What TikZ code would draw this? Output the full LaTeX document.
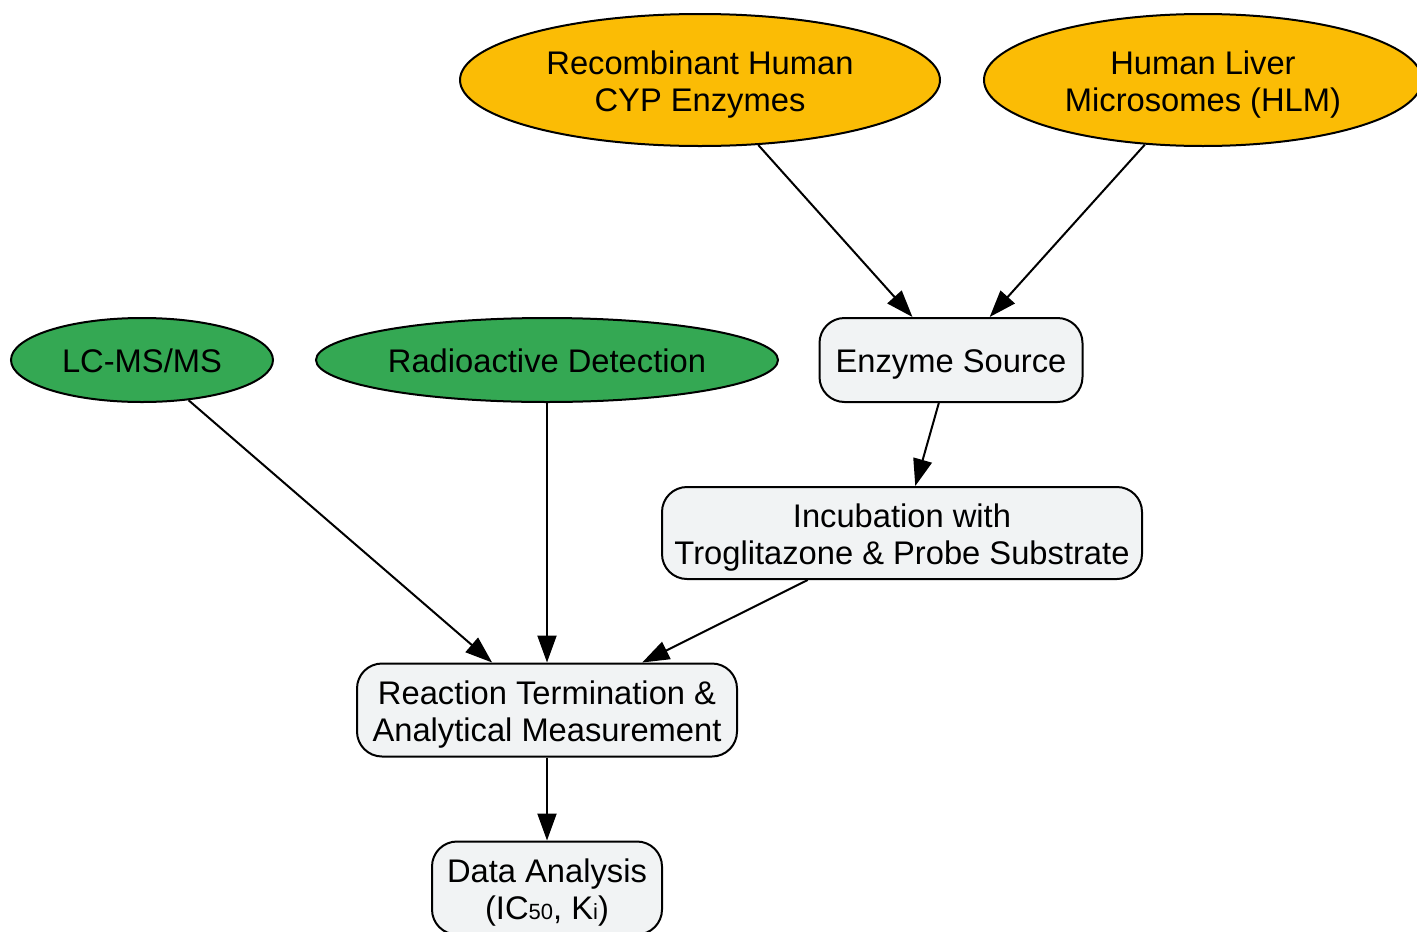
\documentclass[tikz,border=0pt]{standalone}
\usepackage{fontspec}
\setmainfont{Liberation Sans}
\usetikzlibrary{shapes.geometric,arrows.meta}
\definecolor{gyellow}{HTML}{FBBC05}
\definecolor{ggreen}{HTML}{34A853}
\definecolor{boxfill}{HTML}{F1F3F4}
\newcommand{\topst}{\rule{0pt}{32pt}}
\newcommand{\botst}{\rule[-7pt]{0pt}{0pt}}
\begin{document}
\begin{tikzpicture}[x=1pt,y=-1pt,
  base/.style={draw=black,line width=2pt,inner sep=0pt,align=center,
    font=\fontsize{32.7}{37}\selectfont,text=black},
  srcell/.style={base,ellipse,fill=gyellow},
  detell/.style={base,ellipse,fill=ggreen},
  stepbox/.style={base,rectangle,rounded corners=25pt,fill=boxfill},
  conn/.style={line width=2pt,-{Triangle[length=27pt,width=19pt]}}]
\useasboundingbox (0,0) rectangle (1417,932);
\node[srcell,minimum width=480pt,minimum height=132pt] (rec) at (700,80) {\topst Recombinant Human\\CYP Enzymes\botst};
\node[srcell,minimum width=438pt,minimum height=132pt] (hlm) at (1203,80) {\topst Human Liver\\Microsomes (HLM)\botst};
\node[detell,minimum width=262pt,minimum height=84pt] (lc) at (142,360) {\topst LC-MS/MS\botst};
\node[detell,minimum width=462pt,minimum height=84pt] (rad) at (547,360) {\topst Radioactive Detection\botst};
\node[stepbox,minimum width=263pt,minimum height=84pt] (es) at (951,360) {\topst Enzyme Source\botst};
\node[stepbox,minimum width=480pt,minimum height=92pt] (inc) at (902,533) {\topst Incubation with\\Troglitazone \& Probe Substrate\botst};
\node[stepbox,minimum width=380pt,minimum height=93pt] (rt) at (547,710) {\topst Reaction Termination \&\\Analytical Measurement\botst};
\node[stepbox,minimum width=230pt,minimum height=93pt] (da) at (547,888) {\topst Data Analysis\\(IC{\fontsize{22}{22}\selectfont 50}, K{\fontsize{22}{22}\selectfont i})\botst};
\draw[conn] (rec) -- (es);
\draw[conn] (hlm) -- (es);
\draw[conn] (es) -- (inc);
\draw[conn] (lc) -- (rt);
\draw[conn] (rad) -- (rt);
\draw[conn] (inc) -- (rt);
\draw[conn] (rt) -- (da);
\end{tikzpicture}
\end{document}
